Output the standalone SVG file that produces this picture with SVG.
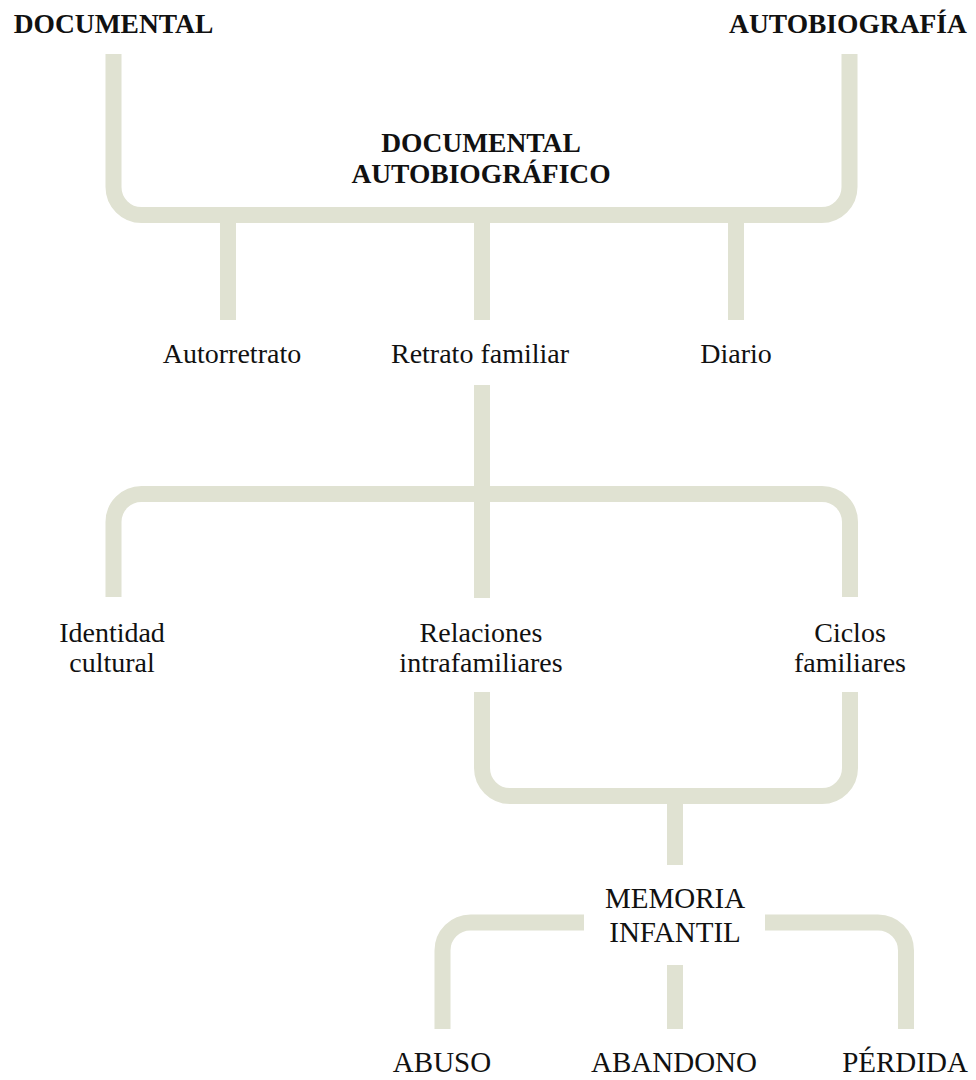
<svg xmlns="http://www.w3.org/2000/svg" width="976" height="1080" viewBox="0 0 976 1080">
<style>
.c{fill:none;stroke:#e0e2d2;stroke-width:16;stroke-linecap:butt}
text{font-family:"Liberation Serif","Times New Roman",serif;fill:#111;text-anchor:middle}
.b{font-weight:bold;font-size:27.5px}
.r{font-size:28px}
.k{font-size:29px}
</style>
<rect width="976" height="1080" fill="#fff"/>
<g id="connectors">
<path class="c" d="M113.5 54 V187 A28 28 0 0 0 141.5 215 H821.5 A28 28 0 0 0 849.5 187 V54"/>
<path class="c" d="M228 215 V320"/>
<path class="c" d="M482 215 V320"/>
<path class="c" d="M736 215 V320"/>
<path class="c" d="M482 385 V598"/>
<path class="c" d="M113.5 597 V522 A28 28 0 0 1 141.5 494 H822 A28 28 0 0 1 850 522 V597"/>
<path class="c" d="M482 692 V768 A28 28 0 0 0 510 796 H822 A28 28 0 0 0 850 768 V692"/>
<path class="c" d="M675 796 V865"/>
<path class="c" d="M584 922.5 H470.5 A28 28 0 0 0 442.5 950.5 V1029"/>
<path class="c" d="M765 922.5 H878 A28 28 0 0 1 906 950.5 V1029"/>
<path class="c" d="M675 965 V1029"/>
</g>
<g id="documental"><text class="b" x="113.5" y="33">DOCUMENTAL</text></g>
<g id="autobiografia"><text class="b" x="848" y="33">AUTOBIOGRAFÍA</text></g>
<g id="documental-autobiografico"><text class="b" x="481" y="152">DOCUMENTAL</text><text class="b" x="481" y="183">AUTOBIOGRÁFICO</text></g>
<g id="autorretrato"><text class="r" x="232" y="363">Autorretrato</text></g>
<g id="retrato-familiar"><text class="r" x="480" y="363">Retrato familiar</text></g>
<g id="diario"><text class="r" x="736" y="363">Diario</text></g>
<g id="identidad-cultural"><text class="r" x="112" y="642">Identidad</text><text class="r" x="112" y="672">cultural</text></g>
<g id="relaciones-intrafamiliares"><text class="r" x="481" y="642">Relaciones</text><text class="r" x="481" y="672">intrafamiliares</text></g>
<g id="ciclos-familiares"><text class="r" x="850" y="642">Ciclos</text><text class="r" x="850" y="672">familiares</text></g>
<g id="memoria-infantil"><text class="k" x="675" y="908">MEMORIA</text><text class="k" x="675" y="942">INFANTIL</text></g>
<g id="abuso"><text class="k" x="442" y="1072">ABUSO</text></g>
<g id="abandono"><text class="k" x="674" y="1072">ABANDONO</text></g>
<g id="perdida"><text class="k" x="905" y="1072">PÉRDIDA</text></g>
</svg>
